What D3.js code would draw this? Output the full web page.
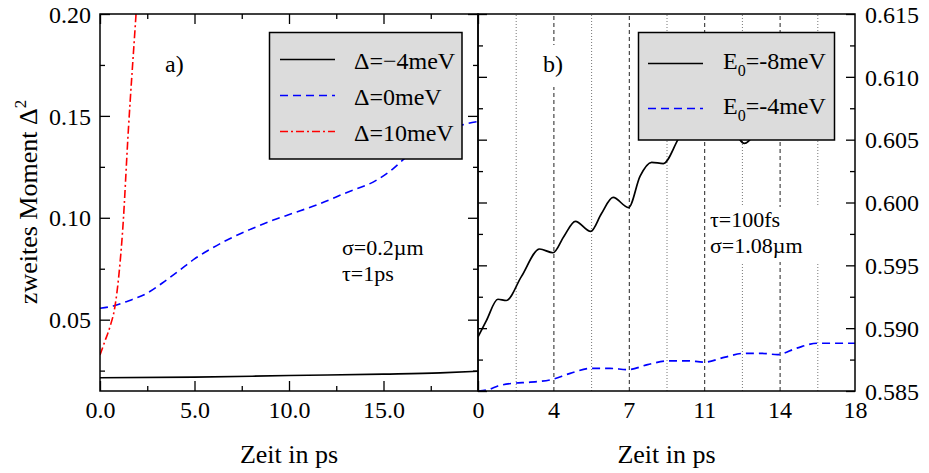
<!DOCTYPE html>
<html>
<head>
<meta charset="utf-8">
<script src="https://cdn.jsdelivr.net/npm/d3@7"></script>
<style>
  body { margin: 0; background: #fff; }
  svg { display: block; font-family: "Liberation Serif", "Times New Roman", serif; }
</style>
</head>
<body>
<div id="chart"></div>
<script>
// two-panel plot: zweites Moment vs Zeit, panel a) and b)

// panel a) series [t in ps, value]
const deltaNeg4 = [[0, 0.0215], [5, 0.0218], [10, 0.0226], [15, 0.0233], [18, 0.0239], [20, 0.0247]];
const delta0 = [
  [0, 0.0556], [0.7, 0.0567], [1.5, 0.0592], [2.47, 0.0629], [3.3, 0.0680], [4.23, 0.0744],
  [5.0, 0.0798], [5.82, 0.0845], [6.7, 0.0890], [8.0, 0.0945], [9.17, 0.0989], [10.3, 0.1025],
  [11.46, 0.1063], [13.0, 0.1122], [14.64, 0.1185], [15.5, 0.1240], [16.23, 0.1300],
  [17.5, 0.1370], [19.15, 0.1455], [20, 0.1472]
];
const delta10 = [
  [0, 0.0327], [0.25, 0.0392], [0.53, 0.0466], [0.79, 0.0564], [1.0, 0.0720],
  [1.2, 0.0940], [1.5, 0.1430], [1.9, 0.1990], [2.0, 0.2130]
];

// panel b) series [t in ps, value]
const e0Neg8 = [
  [0, 0.5893], [0.4, 0.5906], [0.95, 0.5923], [1.35, 0.5922], [2.07, 0.5941], [2.94, 0.5963],
  [3.58, 0.5960], [4.1, 0.5973], [4.65, 0.5985], [5.38, 0.5977], [5.89, 0.5991], [6.45, 0.6004],
  [7.19, 0.5996], [7.74, 0.6021], [8.29, 0.6032], [8.85, 0.6031], [9.55, 0.6050], [10.2, 0.6068],
  [10.9, 0.6062], [11.8, 0.6068], [12.72, 0.6047], [13.6, 0.6062], [14.5, 0.6066], [15.4, 0.6062],
  [16.3, 0.6070], [16.8, 0.6072]
];
const e0Neg4 = [
  [0, 0.5850], [0.48, 0.5851], [0.95, 0.5854], [1.59, 0.5856], [2.5, 0.5857], [3.5, 0.5859],
  [4.4, 0.5864], [5.41, 0.5868], [6.3, 0.5868], [7.16, 0.5867], [8.1, 0.5871], [9.07, 0.5874],
  [10.0, 0.5874], [10.8, 0.5873], [11.8, 0.5877], [12.7, 0.5880], [13.5, 0.5880], [14.3, 0.5879],
  [15.2, 0.5884], [16.2, 0.5888], [17.0, 0.5888], [18, 0.5888]
];

// ticks
const aXMajor = [0, 5, 10, 15, 20];
const aXMinor = [2.5, 7.5, 12.5, 17.5];
const aYMajor = [0.05, 0.10, 0.15, 0.20];
const aYMinor = [0.025, 0.075, 0.125, 0.175];
const bXMajor = [0, 3.6, 7.2, 10.8, 14.4, 18];
const bXMinor = [1.8, 5.4, 9.0, 12.6, 16.2];
const bYMajor = [0.585, 0.590, 0.595, 0.600, 0.605, 0.610, 0.615];
const bYMinor = [0.5875, 0.5925, 0.5975, 0.6025, 0.6075, 0.6125];

const legendA = [
  { label: 'Δ=−4meV', data: deltaNeg4, color: '#000', dash: null },
  { label: 'Δ=0meV', data: delta0, color: '#0000ff', dash: '8,5' },
  { label: 'Δ=10meV', data: delta10, color: '#ff0000', dash: '8,3,2,3' },
];
const legendB = [
  { sub: '0', rest: '=-8meV', data: e0Neg8, color: '#000', dash: null },
  { sub: '0', rest: '=-4meV', data: e0Neg4, color: '#0000ff', dash: '8,5' },
];

const W = 929, H = 473;
const plotTop = 14, plotBottom = 391;
const aLeft = 100, mid = 478, bRight = 855;
const FS = 24;

const svg = d3.select('#chart').append('svg')
  .attr('width', W).attr('height', H);

const xA = d3.scaleLinear().domain([0, 20]).range([aLeft, mid]);
const yA = d3.scaleLinear().domain([0.015, 0.2]).range([plotBottom, plotTop]);
const xB = d3.scaleLinear().domain([0, 18]).range([mid, bRight]);
const yB = d3.scaleLinear().domain([0.585, 0.615]).range([plotBottom, plotTop]);

const defs = svg.append('defs');
defs.append('clipPath').attr('id', 'clipA').append('rect')
  .attr('x', aLeft).attr('y', plotTop).attr('width', mid - aLeft).attr('height', plotBottom - plotTop);
defs.append('clipPath').attr('id', 'clipB').append('rect')
  .attr('x', mid).attr('y', plotTop).attr('width', bRight - mid).attr('height', plotBottom - plotTop);

function tickAxis(axis, transform) {
  const g = svg.append('g').attr('transform', transform).call(axis);
  g.select('.domain').remove();
  g.selectAll('.tick line').attr('stroke', '#000').attr('stroke-width', 1.3);
  g.selectAll('text').attr('font-size', FS).attr('font-family', '"Liberation Serif", serif').attr('fill', '#000');
  return g;
}

// ---------- panel b) grid (behind everything) ----------
const gridMinor = svg.append('g').attr('transform', `translate(0,${plotBottom})`)
  .call(d3.axisBottom(xB).tickValues(bXMinor).tickSize(-(plotBottom - plotTop)).tickFormat(''));
gridMinor.select('.domain').remove();
gridMinor.selectAll('.tick line').attr('stroke', '#777').attr('stroke-width', 1).attr('stroke-dasharray', '1,2');

const gridMajor = svg.append('g').attr('transform', `translate(0,${plotBottom})`)
  .call(d3.axisBottom(xB).tickValues(bXMajor.slice(1, -1)).tickSize(-(plotBottom - plotTop)).tickFormat(''));
gridMajor.select('.domain').remove();
gridMajor.selectAll('.tick line').attr('stroke', '#222').attr('stroke-width', 1).attr('stroke-dasharray', '4,3');

// white boxes behind annotations in panel b)
svg.append('rect').attr('x', 540).attr('y', 45).attr('width', 27).attr('height', 42).attr('fill', '#fff');
svg.append('rect').attr('x', 706).attr('y', 207).attr('width', 117).attr('height', 55).attr('fill', '#fff');

// ---------- curves ----------
const lineA = d3.line().x(d => xA(d[0])).y(d => yA(d[1])).curve(d3.curveMonotoneX);
const lineB = d3.line().x(d => xB(d[0])).y(d => yB(d[1])).curve(d3.curveMonotoneX);

svg.append('g').attr('clip-path', 'url(#clipA)')
  .selectAll('path').data(legendA).join('path')
  .attr('d', d => lineA(d.data))
  .attr('fill', 'none')
  .attr('stroke', d => d.color)
  .attr('stroke-width', 1.6)
  .attr('stroke-dasharray', d => d.dash);

svg.append('g').attr('clip-path', 'url(#clipB)')
  .selectAll('path').data(legendB).join('path')
  .attr('d', d => lineB(d.data))
  .attr('fill', 'none')
  .attr('stroke', d => d.color)
  .attr('stroke-width', 1.7)
  .attr('stroke-dasharray', d => d.dash);

// ---------- legends ----------
const legA = svg.append('g');
legA.append('rect').attr('x', 269.5).attr('y', 32.5).attr('width', 192.5).attr('height', 126.5)
  .attr('fill', '#dcdcdc').attr('stroke', '#000').attr('stroke-width', 1.5);
legendA.forEach((s, i) => {
  const ly = 59.5 + i * 36;
  legA.append('line').attr('x1', 280).attr('x2', 335).attr('y1', ly).attr('y2', ly)
    .attr('stroke', s.color).attr('stroke-width', 1.6).attr('stroke-dasharray', s.dash);
  legA.append('text').attr('x', 354).attr('y', ly + 9)
    .attr('font-size', FS).text(s.label);
});

const legB = svg.append('g');
legB.append('rect').attr('x', 638.5).attr('y', 32.5).attr('width', 196).attr('height', 107.5)
  .attr('fill', '#dcdcdc').attr('stroke', '#000').attr('stroke-width', 1.5);
legendB.forEach((s, i) => {
  const ly = 63.5 + i * 45;
  legB.append('line').attr('x1', 648).attr('x2', 703).attr('y1', ly).attr('y2', ly)
    .attr('stroke', s.color).attr('stroke-width', 1.6).attr('stroke-dasharray', s.dash);
  const t = legB.append('text').attr('x', 723).attr('y', ly + 5).attr('font-size', FS);
  t.append('tspan').text('E');
  t.append('tspan').attr('font-size', 16).attr('dy', 7).text(s.sub);
  t.append('tspan').attr('dy', -7).text(s.rest);
});

// ---------- frames ----------
svg.append('rect').attr('x', aLeft).attr('y', plotTop).attr('width', mid - aLeft).attr('height', plotBottom - plotTop)
  .attr('fill', 'none').attr('stroke', '#000').attr('stroke-width', 1.5);
svg.append('rect').attr('x', mid).attr('y', plotTop).attr('width', bRight - mid).attr('height', plotBottom - plotTop)
  .attr('fill', 'none').attr('stroke', '#000').attr('stroke-width', 1.5);

// ---------- panel a) axes ----------
const fmt1 = d3.format('.1f');
const axA = tickAxis(d3.axisBottom(xA).tickValues(aXMajor).tickSize(-10)
  .tickFormat(d => d === 20 ? '' : fmt1(d)), `translate(0,${plotBottom})`);
axA.selectAll('text').attr('y', 27).attr('dy', 0);
tickAxis(d3.axisBottom(xA).tickValues(aXMinor).tickSize(-5).tickFormat(''), `translate(0,${plotBottom})`);
tickAxis(d3.axisTop(xA).tickValues(aXMajor).tickSize(-10).tickFormat(''), `translate(0,${plotTop})`);
tickAxis(d3.axisTop(xA).tickValues(aXMinor).tickSize(-5).tickFormat(''), `translate(0,${plotTop})`);

const ayA = tickAxis(d3.axisLeft(yA).tickValues(aYMajor).tickSize(-10).tickPadding(9)
  .tickFormat(d3.format('.2f')), `translate(${aLeft},0)`);
ayA.selectAll('text').attr('dy', '0.34em');
tickAxis(d3.axisLeft(yA).tickValues(aYMinor).tickSize(-5).tickFormat(''), `translate(${aLeft},0)`);
tickAxis(d3.axisRight(yA).tickValues(aYMajor).tickSize(-10).tickFormat(''), `translate(${mid},0)`);
tickAxis(d3.axisRight(yA).tickValues(aYMinor).tickSize(-5).tickFormat(''), `translate(${mid},0)`);

// ---------- panel b) axes ----------
const axB = tickAxis(d3.axisBottom(xB).tickValues(bXMajor).tickSize(0)
  .tickFormat(d3.format('.0f')), `translate(0,${plotBottom})`);
axB.selectAll('text').attr('y', 27).attr('dy', 0);

const ayB = tickAxis(d3.axisRight(yB).tickValues(bYMajor).tickSize(-9).tickPadding(10)
  .tickFormat(d3.format('.3f')), `translate(${bRight},0)`);
ayB.selectAll('text').attr('dy', '0.34em');
tickAxis(d3.axisRight(yB).tickValues(bYMinor).tickSize(-5).tickFormat(''), `translate(${bRight},0)`);
tickAxis(d3.axisLeft(yB).tickValues(bYMajor).tickSize(-9).tickFormat(''), `translate(${mid},0)`);
tickAxis(d3.axisLeft(yB).tickValues(bYMinor).tickSize(-5).tickFormat(''), `translate(${mid},0)`);

// ---------- titles and annotations ----------
svg.append('text').attr('x', (aLeft + mid) / 2).attr('y', 463).attr('text-anchor', 'middle')
  .attr('font-size', 26).text('Zeit in ps');
svg.append('text').attr('x', (mid + bRight) / 2).attr('y', 463).attr('text-anchor', 'middle')
  .attr('font-size', 26).text('Zeit in ps');

const yt = svg.append('text').attr('transform', 'translate(37,202) rotate(-90)')
  .attr('text-anchor', 'middle').attr('font-size', 26);
yt.append('tspan').text('zweites Moment Δ');
yt.append('tspan').attr('font-size', 17).attr('dy', -11).text('2');

svg.append('text').attr('x', 165).attr('y', 72).attr('font-size', FS).text('a)');
svg.append('text').attr('x', 543).attr('y', 72).attr('font-size', FS).text('b)');
svg.append('text').attr('x', 342).attr('y', 255).attr('font-size', 22).text('σ=0.2µm');
svg.append('text').attr('x', 342).attr('y', 281).attr('font-size', 22).text('τ=1ps');
svg.append('text').attr('x', 710).attr('y', 227).attr('font-size', 22).text('τ=100fs');
svg.append('text').attr('x', 710).attr('y', 253).attr('font-size', 22).text('σ=1.08µm');
</script>
</body>
</html>
